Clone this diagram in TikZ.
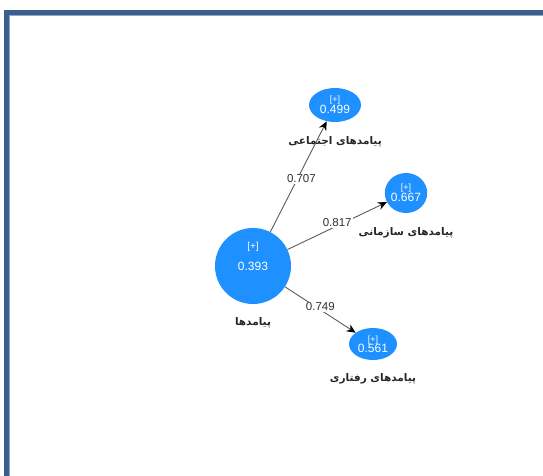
\documentclass[tikz,border=0pt]{standalone}
\usepackage{fontspec}
\setmainfont{Liberation Sans}
\newfontfamily\farsi[Script=Arabic]{DejaVu Sans}
\TeXXeTstate=1
\usetikzlibrary{positioning,shapes.geometric,arrows.meta}
\definecolor{nodeblue}{RGB}{30,144,255}
\definecolor{frameblue}{RGB}{58,95,142}
\definecolor{framelight}{RGB}{140,166,200}
\definecolor{linegray}{RGB}{90,90,90}
\definecolor{textgray}{RGB}{50,50,50}

\begin{document}
\begin{tikzpicture}[x=1pt, y=-1pt,
bignode/.style={circle, fill=nodeblue, text=white, minimum size=76pt, inner sep=0pt, font=\fontsize{12}{12}\selectfont},
smallnode/.style={ellipse, fill=nodeblue, text=white, inner sep=0pt, align=center, font=\fontsize{12}{11}\selectfont},
namenode/.style={text=black!85, inner sep=0pt, font=\farsi\bfseries\fontsize{10.5}{12}\selectfont},
weightnode/.style={fill=white, text=textgray, inner sep=1pt, font=\fontsize{11.5}{11}\selectfont},
loadline/.style={draw=linegray, line width=0.9pt, -{Stealth[black, length=9pt, width=8pt]}},
]
\useasboundingbox (0,0) rectangle (543,476);
%Frame
\draw[frameblue, line width=5pt] (6.5,476) -- (6.5,12.5) -- (543,12.5);
\draw[framelight, line width=1pt] (9.5,476) -- (9.5,15.5) -- (543,15.5);

%Nodes
\node[bignode]   (P)  at (253,266) {0.393};
\node[white, font=\fontsize{10}{10}\selectfont, inner sep=0pt] (Pplus) [above=14pt of P.center] {[+]};
\node[smallnode, minimum width=52pt, minimum height=34pt] (S) at (335,105) {\fontsize{9}{9}\selectfont[+]\\[0pt]0.499};
\node[smallnode, minimum width=42pt, minimum height=40pt] (O) at (406,193) {\fontsize{9}{9}\selectfont[+]\\[0pt]0.667};
\node[smallnode, minimum width=48pt, minimum height=32pt] (B) at (373,344) {\fontsize{9}{9}\selectfont[+]\\[-1pt]0.561};

\node[namenode] (Pname) [below=13pt of P]  {\beginR پیامدها\endR};
\node[namenode] (Sname) [below=14pt of S]  {\beginR پیامدهای اجتماعی\endR};
\node[namenode] (Oname) [below=14pt of O]  {\beginR پیامدهای سازمانی\endR};
\node[namenode] (Bname) [below=13pt of B]  {\beginR پیامدهای رفتاری\endR};

%Lines
\draw[loadline] (P) -- node[weightnode, pos=0.48, xshift=4pt] {0.707} (S);
\draw[loadline] (P) -- node[weightnode, pos=0.5, yshift=3pt] {0.817} (O);
\draw[loadline] (P) -- node[weightnode, pos=0.5, yshift=3pt] {0.749} (B);
\end{tikzpicture}
\end{document}
